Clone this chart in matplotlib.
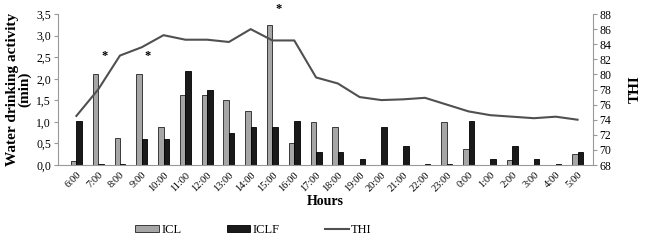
import matplotlib
matplotlib.use("Agg")
import matplotlib.pyplot as plt
import numpy as np

hours = ["6:00", "7:00", "8:00", "9:00", "10:00", "11:00", "12:00", "13:00",
         "14:00", "15:00", "16:00", "17:00", "18:00", "19:00", "20:00", "21:00",
         "22:00", "23:00", "0:00", "1:00", "2:00", "3:00", "4:00", "5:00"]
icl = [0.10, 2.10, 0.62, 2.10, 0.87, 1.62, 1.62, 1.50, 1.25, 3.25, 0.50, 1.00,
       0.87, 0.0, 0.0, 0.0, 0.0, 1.00, 0.37, 0.0, 0.12, 0.0, 0.0, 0.25]
iclf = [1.03, 0.03, 0.03, 0.60, 0.60, 2.17, 1.75, 0.75, 0.87, 0.87, 1.03, 0.30,
        0.30, 0.15, 0.87, 0.45, 0.03, 0.03, 1.03, 0.15, 0.45, 0.15, 0.03, 0.30]
thi = [74.5, 78.0, 82.5, 83.6, 85.2, 84.6, 84.6, 84.3, 86.0, 84.5, 84.5, 79.6,
       78.8, 77.0, 76.6, 76.7, 76.9, 76.0, 75.1, 74.6, 74.4, 74.2, 74.4, 74.0]
star_hours = ["7:00", "9:00", "15:00"]
star_levels = [2.53, 2.53, 3.62]

plt.rcParams['font.family'] = ['Liberation Serif', 'DejaVu Serif']

fig = plt.figure(figsize=(6.5, 2.4), dpi=100)
ax = fig.add_axes([0.089, 0.3125, 0.823, 0.629])
x = np.arange(len(hours))
w = 0.25
b1 = ax.bar(x - w / 2, icl, w, color='#a6a6a6', edgecolor='#222222', linewidth=0.6, label='ICL')
b2 = ax.bar(x + w / 2, iclf, w, color='#1a1a1a', edgecolor='#000000', linewidth=0.6, label='ICLF')

ax.set_ylim(0, 3.5)
ax.set_yticks(np.arange(0, 3.51, 0.5))
ax.set_yticklabels([f"{v:.1f}".replace('.', ',') for v in np.arange(0, 3.51, 0.5)], fontsize=8.5)
ax.set_xlim(-0.85, len(hours) - 0.3)
ax.set_xticks(x)
ax.set_xticklabels(hours, rotation=45, ha='right', rotation_mode='anchor', fontsize=7.5)
ax.tick_params(axis='x', length=0, pad=4)
ax.tick_params(axis='y', length=3, color='#999999', pad=2)
for s in ['top', 'right']:
    ax.spines[s].set_visible(False)
for s in ['left', 'bottom']:
    ax.spines[s].set_color('#999999')
ax.set_ylabel("Water drinking activity\n(min)", fontsize=11, fontweight='bold', labelpad=3, linespacing=0.9)
ax.set_xlabel("Hours", fontsize=10, fontweight='bold', labelpad=1)

for h, lv in zip(star_hours, star_levels):
    i = hours.index(h)
    ax.text(i + 0.28, lv, "*", ha='center', va='center', fontsize=9, fontweight='bold', clip_on=False)

ax2 = ax.twinx()
ln, = ax2.plot(x, thi, color='#505050', linewidth=1.5, label='THI')
ax2.set_ylim(68, 88)
ax2.set_yticks(np.arange(68, 89, 2))
ax2.tick_params(axis='y', length=3, color='#999999', labelsize=8.5, pad=2)
for s in ['top', 'left', 'bottom']:
    ax2.spines[s].set_visible(False)
ax2.spines['right'].set_color('#999999')
ax2.set_ylabel("THI", fontsize=11, fontweight='bold', rotation=90, labelpad=12)

fig.legend([b1, b2, ln], ['ICL', 'ICLF', 'THI'], loc='lower center', ncol=3,
           bbox_to_anchor=(0.39, -0.03), frameon=False, fontsize=9,
           columnspacing=3.6, handlelength=1.9, handletextpad=0.2, handleheight=0.5)

fig.savefig("out.png", dpi=100)
